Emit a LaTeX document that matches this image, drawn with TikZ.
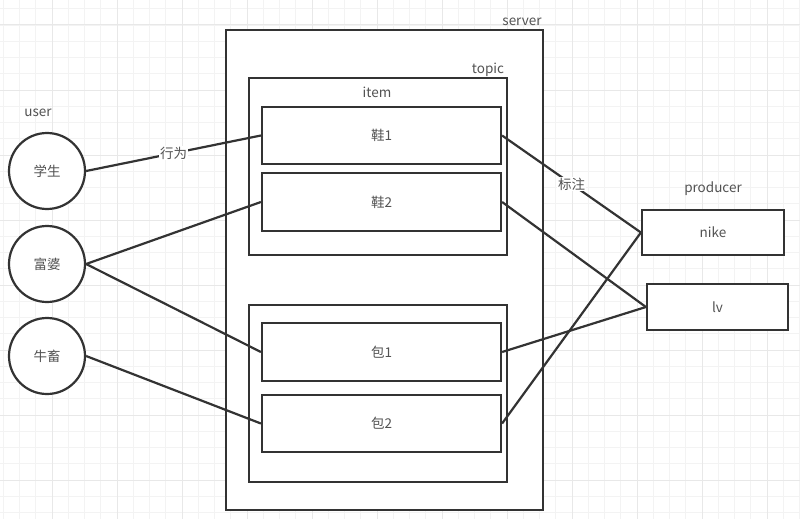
\documentclass[tikz,border=0pt]{standalone}
\usepackage{fontspec}
\setmainfont{Noto Sans CJK SC}
\usetikzlibrary{calc}
\definecolor{ink}{HTML}{333333}
\definecolor{gridminor}{HTML}{F3F3F3}
\definecolor{gridmajor}{HTML}{E8E8E8}

\begin{document}
\begin{tikzpicture}[x=1pt, y=-1pt,
    box/.style={draw=ink, line width=2.2pt, fill=white, inner sep=0pt, font=\fontsize{13.5}{15}\selectfont, text=ink!85},
    person/.style={circle, draw=ink, line width=2.2pt, fill=white, minimum size=76pt, inner sep=0pt, font=\fontsize{13.5}{15}\selectfont, text=ink!85},
    tag/.style={font=\fontsize{13.5}{15}\selectfont, text=ink!85, inner sep=1pt},
    link/.style={draw=ink, line width=2.2pt},
    said/.style={fill=white, font=\fontsize{13.5}{15}\selectfont, text=ink!85, inner sep=1pt}]
    \useasboundingbox (0,0) rectangle (800,519);
    \fill[white] (0,0) rectangle (800,519);
    \foreach \gx in {3.25,19.5,...,800} {\draw[gridminor, line width=0.8pt] (\gx,0) -- (\gx,519);}
    \foreach \gy in {8.75,25,...,519} {\draw[gridminor, line width=0.8pt] (0,\gy) -- (800,\gy);}
    \foreach \gx in {52,117,...,800} {\draw[gridmajor, line width=1pt] (\gx,0) -- (\gx,519);}
    \foreach \gy in {25,90,...,519} {\draw[gridmajor, line width=1pt] (0,\gy) -- (800,\gy);}
    \node[box, minimum width=317pt, minimum height=480pt] (server) at (384.5,270) {};
    \node[box, minimum width=258pt, minimum height=177pt] (topicA) at (378,166.5) {};
    \node[box, minimum width=258pt, minimum height=177pt] (topicB) at (378,393.5) {};
    \node[box, minimum width=239pt, minimum height=57pt] (shoe1) at (381.5,135.5) {鞋1};
    \node[box, minimum width=239pt, minimum height=58pt] (shoe2) at (381.5,202) {鞋2};
    \node[box, minimum width=239pt, minimum height=58pt] (bag1) at (381.5,352) {包1};
    \node[box, minimum width=239pt, minimum height=57pt] (bag2) at (381.5,423.5) {包2};
    \node[person] (student) at (47,171) {学生};
    \node[person] (rich) at (47,264) {富婆};
    \node[person] (ox) at (47,356) {牛畜};
    \node[box, minimum width=142pt, minimum height=45pt] (nike) at (713,232.5) {nike};
    \node[box, minimum width=141pt, minimum height=46pt] (lv) at (717.5,307) {lv};
    \node[tag] (serverlbl) at (522,22) {server};
    \node[tag] (topiclbl) at (488,70) {topic};
    \node[tag] (itemlbl) at (377,92) {item};
    \node[tag] (userlbl) at (38,113) {user};
    \node[tag] (producerlbl) at (713,189) {producer};
    \draw[link] (student.east) -- node[said] {行为} (shoe1.west);
    \draw[link] (rich.east) -- (shoe2.west);
    \draw[link] (rich.east) -- (bag1.west);
    \draw[link] (ox.east) -- (bag2.west);
    \draw[link] (shoe1.east) -- node[said] {标注} (nike.west);
    \draw[link] (shoe2.east) -- (lv.west);
    \draw[link] (bag1.east) -- (lv.west);
    \draw[link] (bag2.east) -- (nike.west);
\end{tikzpicture}
\end{document}
